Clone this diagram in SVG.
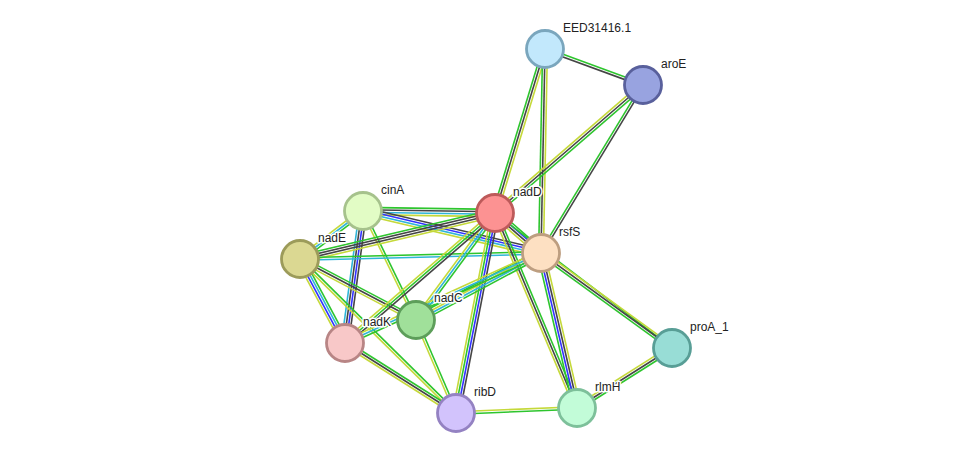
<svg xmlns="http://www.w3.org/2000/svg" width="976" height="459" viewBox="0 0 976 459">
<style>
line{stroke-width:1.6;fill:none}
.g{stroke:#2ec52e}.y{stroke:#c5d93a}.k{stroke:#454545}.b{stroke:#3232ff}.c{stroke:#2fb5d8}
circle{stroke-width:2.8}
text{font-family:"Liberation Sans",Arial,sans-serif;font-size:12px;fill:#222;stroke:#fff;stroke-width:3px;paint-order:stroke;stroke-linejoin:round}
</style>
<rect width="976" height="459" fill="#fff"/>
<g id="connectors">
<g transform="translate(545 49) rotate(20.17)"><line class="g" x2="104.4" y1="-1.2" y2="-1.2"/><line class="k" x2="104.4" y1="1.2" y2="1.2"/></g>
<g transform="translate(545 49) rotate(106.96)"><line class="y" x2="171.5" y1="-2.4" y2="-2.4"/><line class="k" x2="171.5"/><line class="g" x2="171.5" y1="2.4" y2="2.4"/></g>
<g transform="translate(545 49) rotate(91.12)"><line class="y" x2="204" y1="-2.4" y2="-2.4"/><line class="k" x2="204"/><line class="g" x2="204" y1="2.4" y2="2.4"/></g>
<g transform="translate(643 85) rotate(139.14)"><line class="g" x2="195.7" y1="-2.4" y2="-2.4"/><line class="k" x2="195.7"/><line class="y" x2="195.7" y1="2.4" y2="2.4"/></g>
<g transform="translate(643 85) rotate(121.26)"><line class="k" x2="196.5" y1="-1.2" y2="-1.2"/><line class="g" x2="196.5" y1="1.2" y2="1.2"/></g>
<g transform="translate(363 211) rotate(0.87)"><line class="g" x2="132" y1="-3.6" y2="-3.6"/><line class="k" x2="132" y1="-1.2" y2="-1.2"/><line class="c" x2="132" y1="1.2" y2="1.2"/><line class="y" x2="132" y1="3.6" y2="3.6"/></g>
<g transform="translate(363 211) rotate(13.28)"><line class="k" x2="182.9" y1="-3.6" y2="-3.6"/><line class="b" x2="182.9" y1="-1.2" y2="-1.2"/><line class="c" x2="182.9" y1="1.2" y2="1.2"/><line class="y" x2="182.9" y1="3.6" y2="3.6"/></g>
<g transform="translate(363 211) rotate(142.7)"><line class="g" x2="79.2" y1="-2.4" y2="-2.4"/><line class="c" x2="79.2"/><line class="y" x2="79.2" y1="2.4" y2="2.4"/></g>
<g transform="translate(363 211) rotate(97.77)"><line class="k" x2="133.2" y1="-3.6" y2="-3.6"/><line class="b" x2="133.2" y1="-1.2" y2="-1.2"/><line class="k" x2="133.2" y1="1.2" y2="1.2"/><line class="c" x2="133.2" y1="3.6" y2="3.6"/></g>
<g transform="translate(363 211) rotate(64.07)"><line class="g" x2="121.2" y1="-1.2" y2="-1.2"/><line class="y" x2="121.2" y1="1.2" y2="1.2"/></g>
<g transform="translate(300 259) rotate(-13.27)"><line class="g" x2="200.4" y1="-3.6" y2="-3.6"/><line class="k" x2="200.4" y1="-1.2" y2="-1.2"/><line class="k" x2="200.4" y1="1.2" y2="1.2"/><line class="y" x2="200.4" y1="3.6" y2="3.6"/></g>
<g transform="translate(300 259) rotate(-1.43)"><line class="g" x2="241.1" y1="-1.2" y2="-1.2"/><line class="c" x2="241.1" y1="1.2" y2="1.2"/></g>
<g transform="translate(300 259) rotate(61.82)"><line class="g" x2="95.3" y1="-3.6" y2="-3.6"/><line class="c" x2="95.3" y1="-1.2" y2="-1.2"/><line class="b" x2="95.3" y1="1.2" y2="1.2"/><line class="y" x2="95.3" y1="3.6" y2="3.6"/></g>
<g transform="translate(300 259) rotate(27.74)"><line class="g" x2="131.1" y1="-2.4" y2="-2.4"/><line class="k" x2="131.1"/><line class="y" x2="131.1" y1="2.4" y2="2.4"/></g>
<g transform="translate(300 259) rotate(44.63)"><line class="g" x2="219.2" y1="-1.2" y2="-1.2"/><line class="y" x2="219.2" y1="1.2" y2="1.2"/></g>
<g transform="translate(495 213) rotate(41)"><line class="g" x2="61" y1="-3.6" y2="-3.6"/><line class="b" x2="61" y1="-1.2" y2="-1.2"/><line class="k" x2="61" y1="1.2" y2="1.2"/><line class="y" x2="61" y1="3.6" y2="3.6"/></g>
<g transform="translate(495 213) rotate(126.44)"><line class="g" x2="133" y1="-2.4" y2="-2.4"/><line class="c" x2="133"/><line class="y" x2="133" y1="2.4" y2="2.4"/></g>
<g transform="translate(495 213) rotate(139.09)"><line class="k" x2="198.5" y1="-2.4" y2="-2.4"/><line class="g" x2="198.5"/><line class="y" x2="198.5" y1="2.4" y2="2.4"/></g>
<g transform="translate(495 213) rotate(101.03)"><line class="k" x2="203.8" y1="-3.6" y2="-3.6"/><line class="b" x2="203.8" y1="-1.2" y2="-1.2"/><line class="g" x2="203.8" y1="1.2" y2="1.2"/><line class="y" x2="203.8" y1="3.6" y2="3.6"/></g>
<g transform="translate(495 213) rotate(67.2)"><line class="g" x2="211.5" y1="-2.4" y2="-2.4"/><line class="k" x2="211.5"/><line class="y" x2="211.5" y1="2.4" y2="2.4"/></g>
<g transform="translate(495 213) rotate(37.33)"><line class="g" x2="222.6"/></g>
<g transform="translate(541 253) rotate(151.81)"><line class="g" x2="141.8" y1="-3.6" y2="-3.6"/><line class="c" x2="141.8" y1="-1.2" y2="-1.2"/><line class="y" x2="141.8" y1="1.2" y2="1.2"/><line class="g" x2="141.8" y1="3.6" y2="3.6"/></g>
<g transform="translate(541 253) rotate(155.34)"><line class="g" x2="215.7" y1="-2.4" y2="-2.4"/><line class="c" x2="215.7"/><line class="y" x2="215.7" y1="2.4" y2="2.4"/></g>
<g transform="translate(541 253) rotate(76.92)"><line class="y" x2="159.1" y1="-3.6" y2="-3.6"/><line class="k" x2="159.1" y1="-1.2" y2="-1.2"/><line class="b" x2="159.1" y1="1.2" y2="1.2"/><line class="g" x2="159.1" y1="3.6" y2="3.6"/></g>
<g transform="translate(541 253) rotate(35.95)"><line class="y" x2="161.8" y1="-2.4" y2="-2.4"/><line class="k" x2="161.8"/><line class="g" x2="161.8" y1="2.4" y2="2.4"/></g>
<g transform="translate(577 408) rotate(-32.28)"><line class="g" x2="112.4" y1="2.4" y2="2.4"/><line class="k" x2="112.4"/><line class="y" x2="112.4" y1="-2.4" y2="-2.4"/></g>
<g transform="translate(456 413) rotate(-2.37)"><line class="y" x2="121.1" y1="-1.2" y2="-1.2"/><line class="g" x2="121.1" y1="1.2" y2="1.2"/></g>
<g transform="translate(416 320) rotate(66.73)"><line class="g" x2="101.2" y1="-1.2" y2="-1.2"/><line class="y" x2="101.2" y1="1.2" y2="1.2"/></g>
<g transform="translate(345 343) rotate(32.24)"><line class="g" x2="131.2" y1="-2.4" y2="-2.4"/><line class="k" x2="131.2"/><line class="y" x2="131.2" y1="2.4" y2="2.4"/></g>
</g>
<g id="EED31416.1"><circle cx="545" cy="49" r="18.5" fill="#c2e8fc" stroke="#7aa6bd"/><text x="563" y="32">EED31416.1</text></g>
<g id="aroE"><circle cx="643" cy="85" r="18.5" fill="#98a3e0" stroke="#59609c"/><text x="661" y="68">aroE</text></g>
<g id="cinA"><circle cx="363" cy="211" r="18.5" fill="#e2fcc5" stroke="#a6c28c"/><text x="381" y="194">cinA</text></g>
<g id="nadD"><circle cx="495" cy="213" r="18.5" fill="#fc9292" stroke="#bd5a5a"/><text x="513" y="196">nadD</text></g>
<g id="nadE"><circle cx="300" cy="259" r="18.5" fill="#dbd892" stroke="#9c9b5a"/><text x="318" y="242">nadE</text></g>
<g id="rsfS"><circle cx="541" cy="253" r="18.5" fill="#fde0c2" stroke="#bd9e80"/><text x="559" y="236">rsfS</text></g>
<g id="nadC"><circle cx="416" cy="320" r="18.5" fill="#a0e09a" stroke="#5d9e5a"/><text x="434" y="302">nadC</text></g>
<g id="nadK"><circle cx="345" cy="343" r="18.5" fill="#f8c8c8" stroke="#b88585"/><text x="363" y="326">nadK</text></g>
<g id="proA_1"><circle cx="672" cy="348" r="18.5" fill="#98ddd6" stroke="#589e96"/><text x="690" y="331">proA_1</text></g>
<g id="ribD"><circle cx="456" cy="413" r="18.5" fill="#d2c3fc" stroke="#9482c2"/><text x="474" y="396">ribD</text></g>
<g id="rlmH"><circle cx="577" cy="408" r="18.5" fill="#c2fcd8" stroke="#7dc09a"/><text x="595" y="391">rlmH</text></g>
</svg>
